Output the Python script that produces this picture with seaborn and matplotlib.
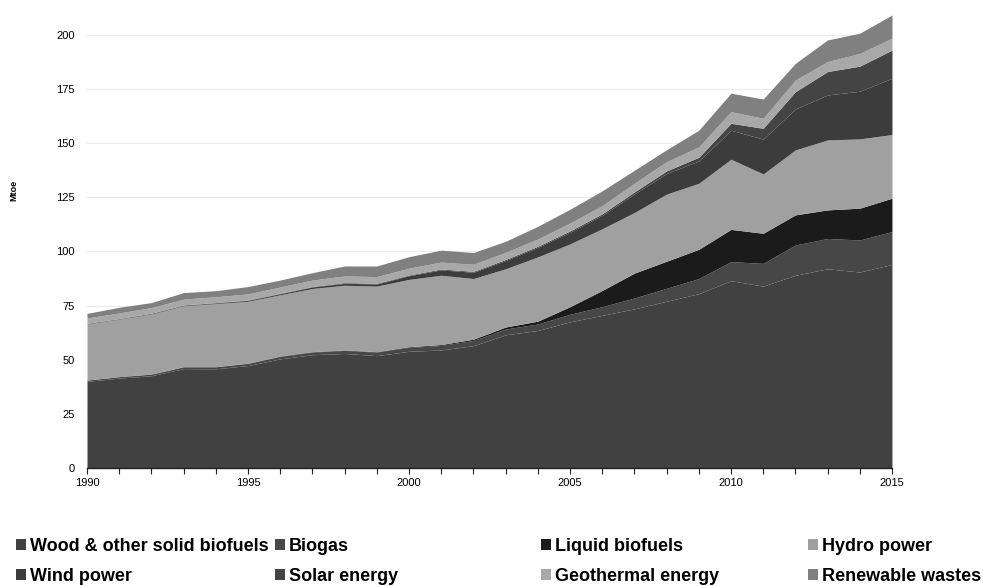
import numpy as np
import pandas as pd
import matplotlib
matplotlib.use("Agg")
import matplotlib.pyplot as plt
import seaborn as sns
from matplotlib.patches import Patch

# Data (Mtoe), stacked bottom -> top
years = list(range(1990, 2016))

wood = [40.0, 41.5, 42.6, 45.9, 45.8, 47.3, 50.4, 52.3, 52.9, 51.9,
        53.9, 54.5, 56.5, 61.5, 63.5, 67.5, 70.5, 73.5, 77.0, 80.5,
        86.5, 84.0, 89.0, 92.0, 90.5, 94.0]
biogas = [0.6, 0.7, 0.7, 0.8, 0.9, 1.0, 1.1, 1.2, 1.4, 1.6,
          1.8, 2.1, 2.4, 2.7, 3.0, 3.5, 4.0, 5.0, 6.0, 7.0,
          8.8, 10.5, 14.0, 14.0, 14.8, 15.2]
liquid = [0.0, 0.0, 0.1, 0.1, 0.1, 0.1, 0.2, 0.2, 0.2, 0.2,
          0.3, 0.4, 0.6, 0.9, 1.3, 3.5, 7.5, 11.5, 12.5, 13.5,
          14.9, 13.9, 13.9, 13.2, 14.7, 15.4]
hydro = [25.9, 26.5, 27.7, 28.1, 29.1, 28.6, 28.3, 29.2, 29.9, 30.3,
         31.1, 32.0, 28.0, 26.9, 29.7, 29.0, 28.5, 28.0, 31.0, 30.5,
         32.4, 27.4, 30.0, 32.3, 32.0, 29.4]
wind = [0.1, 0.1, 0.2, 0.2, 0.3, 0.4, 0.5, 0.7, 0.9, 1.0,
        1.7, 2.5, 2.9, 3.8, 4.4, 5.4, 6.2, 8.6, 9.5, 10.3,
        13.4, 16.1, 18.9, 20.8, 22.0, 26.0]
solar = [0.2, 0.2, 0.2, 0.2, 0.2, 0.2, 0.2, 0.2, 0.3, 0.3,
         0.3, 0.4, 0.4, 0.5, 0.5, 0.6, 0.7, 0.9, 1.2, 1.7,
         3.2, 5.0, 8.0, 10.8, 11.6, 13.0]
geothermal = [2.5, 2.6, 2.6, 2.7, 2.7, 2.8, 2.9, 3.0, 3.1, 3.1,
              3.2, 3.2, 3.3, 3.3, 3.4, 3.6, 3.8, 4.0, 4.3, 4.8,
              5.4, 4.6, 5.4, 4.6, 5.9, 5.5]
wastes = [2.1, 2.6, 2.3, 3.0, 2.8, 3.4, 3.2, 3.4, 4.6, 4.9,
          5.3, 5.5, 5.4, 5.1, 5.8, 6.4, 6.8, 6.0, 5.5, 7.7,
          8.5, 8.9, 7.7, 10.0, 9.3, 10.7]

labels = ["Wood & other solid biofuels", "Biogas", "Liquid biofuels",
          "Hydro power", "Wind power", "Solar energy",
          "Geothermal energy", "Renewable wastes"]
colors = ["#414141", "#474747", "#1b1b1b", "#a0a0a0",
          "#3c3c3c", "#444444", "#a8a8a8", "#808080"]

df = pd.DataFrame(
    {
        labels[0]: wood,
        labels[1]: biogas,
        labels[2]: liquid,
        labels[3]: hydro,
        labels[4]: wind,
        labels[5]: solar,
        labels[6]: geothermal,
        labels[7]: wastes,
    },
    index=years
)

sns.set_style("white")
plt.rcParams["font.family"] = ["Liberation Sans", "DejaVu Sans"]
plt.rcParams["text.color"] = "black"
plt.rcParams["xtick.color"] = "black"
plt.rcParams["ytick.color"] = "black"
plt.rcParams["axes.labelcolor"] = "black"

fig = plt.figure(figsize=(9.83, 5.86), dpi=100)
ax = fig.add_axes([0.0885, 0.2014, 0.8189, 0.7833])

ax.stackplot(
    df.index,
    [df[c] for c in labels],
    colors=colors,
    linewidth=0
)

ax.set_xlim(1990, 2015)
ax.set_ylim(0, 212)
ax.set_yticks(np.arange(0, 201, 25))
ax.set_xticks(np.arange(1990, 2016, 5))
ax.set_xticks(years, minor=True)

ax.grid(axis="y", color="#ebebeb", linewidth=0.8)
ax.set_axisbelow(True)

for side in ["top", "right", "left"]:
    ax.spines[side].set_visible(False)
ax.spines["bottom"].set_color("#222222")
ax.spines["bottom"].set_linewidth(1.0)

ax.tick_params(axis="y", length=0, labelsize=8, pad=9)
ax.tick_params(axis="x", which="both", direction="out", length=4,
               width=0.8, color="#222222", labelsize=8, pad=3,
               bottom=True)

ax.set_ylabel("Mtoe", fontsize=6.5, fontweight="bold")
ax.yaxis.set_label_coords(-0.085, 0.605)

handles = [Patch(facecolor=c, edgecolor="none") for c in colors]
col_x = [16, 275, 541, 808]
for j in range(4):
    fig.legend(
        [handles[j], handles[j + 4]],
        [labels[j], labels[j + 4]],
        loc="upper left",
        bbox_to_anchor=(col_x[j] / 983, 1 - 538 / 586),
        frameon=False,
        ncol=1,
        borderpad=0,
        borderaxespad=0,
        handlelength=0.55,
        handleheight=0.55,
        handletextpad=0.2,
        labelspacing=0.72,
        prop={"weight": "bold", "size": 13}
    )

plt.savefig("out.png", dpi=100)
plt.close()
